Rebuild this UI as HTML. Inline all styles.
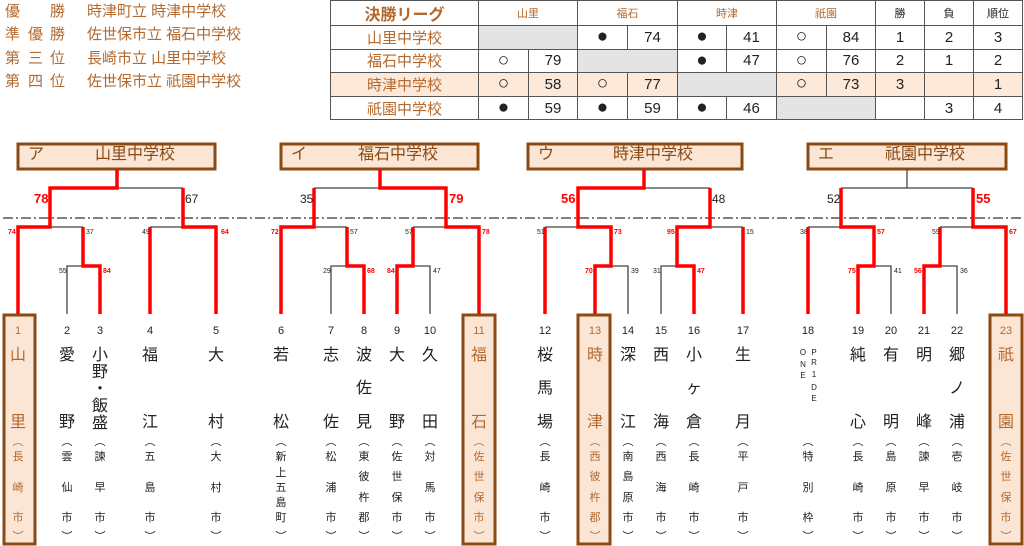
<!DOCTYPE html>
<html><head><meta charset="utf-8"><style>
*{margin:0;padding:0;box-sizing:border-box}
body{width:1024px;height:546px;overflow:hidden;background:#fff;position:relative;font-family:"Liberation Sans","Noto Sans CJK JP",sans-serif;color:#222}
.rs{position:absolute;color:#b4692e;font-size:15px;line-height:18px;white-space:pre}
table{position:absolute;left:330px;top:0;border-collapse:collapse;table-layout:fixed}
td{border:1.5px solid #555;height:23.6px;text-align:center;font-size:15px;padding:0}
.h td{font-size:11px;color:#b4692e}
td.n{color:#b4692e;font-size:15px}
td.c{font-size:19px;line-height:20px}
.g{background:#e4e4e4}
.pk td{background:#fce9da}
.col{position:absolute;width:30px;margin-left:-15px;text-align:center}
.col i{font-style:normal;position:absolute;left:0;width:30px;text-align:center}
.m{font-size:16px;line-height:18px}
.s{font-size:11px;line-height:14px}
.nm{font-size:11px;line-height:12px}
.w{color:#b4692e}
.t{position:absolute;font-size:12px;line-height:12px}
.r{color:#f00;font-weight:bold}
.sm{position:absolute;font-size:7px;line-height:8px}
.bt{position:absolute;top:145px;font-size:16px;line-height:20px;color:#8b4a14}
</style></head><body>
<div class="rs" style="left:5px;top:3px">優</div><div class="rs" style="left:50px;top:3px">勝</div><div class="rs" style="left:87px;top:3px">時津町立 時津中学校</div>
<div class="rs" style="left:5px;top:26px">準</div><div class="rs" style="left:28px;top:26px">優</div><div class="rs" style="left:50px;top:26px">勝</div><div class="rs" style="left:87px;top:26px">佐世保市立 福石中学校</div>
<div class="rs" style="left:5px;top:50px">第</div><div class="rs" style="left:28px;top:50px">三</div><div class="rs" style="left:50px;top:50px">位</div><div class="rs" style="left:87px;top:50px">長崎市立 山里中学校</div>
<div class="rs" style="left:5px;top:73px">第</div><div class="rs" style="left:28px;top:73px">四</div><div class="rs" style="left:50px;top:73px">位</div><div class="rs" style="left:87px;top:73px">佐世保市立 祇園中学校</div>

<table>
<colgroup><col style="width:148px"><col style="width:50px"><col style="width:49px"><col style="width:50px"><col style="width:50px"><col style="width:49px"><col style="width:50px"><col style="width:50px"><col style="width:49px"><col style="width:49px"><col style="width:49px"><col style="width:49px"></colgroup>
<tr class="h"><td class="n" style="font-weight:bold;font-size:16px">決勝リーグ</td><td colspan="2">山里</td><td colspan="2">福石</td><td colspan="2">時津</td><td colspan="2">祇園</td><td style="color:#222">勝</td><td style="color:#222">負</td><td style="color:#222">順位</td></tr>
<tr><td class="n">山里中学校</td><td colspan="2" class="g"></td><td class="c">●</td><td>74</td><td class="c">●</td><td>41</td><td class="c">○</td><td>84</td><td>1</td><td>2</td><td>3</td></tr>
<tr><td class="n">福石中学校</td><td class="c">○</td><td>79</td><td colspan="2" class="g"></td><td class="c">●</td><td>47</td><td class="c">○</td><td>76</td><td>2</td><td>1</td><td>2</td></tr>
<tr class="pk"><td class="n">時津中学校</td><td class="c">○</td><td>58</td><td class="c">○</td><td>77</td><td colspan="2" style="background:#e4e4e4"></td><td class="c">○</td><td>73</td><td>3</td><td></td><td>1</td></tr>
<tr><td class="n">祇園中学校</td><td class="c">●</td><td>59</td><td class="c">●</td><td>59</td><td class="c">●</td><td>46</td><td colspan="2" class="g"></td><td></td><td>3</td><td>4</td></tr>
</table>

<svg width="1024" height="546" style="position:absolute;left:0;top:0" fill="none">
<g stroke="#8b4a14" stroke-width="3" fill="#fbe6d6">
<rect x="18" y="144" width="197" height="25"/>
<rect x="281" y="144" width="197" height="25"/>
<rect x="528" y="144" width="214" height="25"/>
<rect x="808" y="144" width="198" height="25"/>
<rect x="4" y="315" width="31" height="229"/>
<rect x="463" y="315" width="32" height="229"/>
<rect x="578" y="315" width="32" height="229"/>
<rect x="990" y="315" width="32" height="229"/>
</g>
<line x1="3" y1="218" x2="1024" y2="218" stroke="#333" stroke-width="1.3" stroke-dasharray="10,3,2,3"/>
<g stroke="#444" stroke-width="1.3">
<path d="M117 188H183M50 227H83M67 314V266H83M150 227H183"/>
<path d="M380 188H314M314 227H347M331 314V266H347M446 227H413M413 266H430V314"/>
<path d="M644 188H710M578 227H545M611 266H628V314M710 227H743M677 266H661V314"/>
<path d="M907 170V188H841M907 188H973M841 227H808M874 266H891V314M973 227H940M940 266H957V314"/>
</g>
<g stroke="#f00" stroke-width="3.5">
<path d="M117 170V188H50V227H18V314M83 227V266H100V314M183 188V227H216V314M150 314V227"/>
<path d="M380 170V188H446V227H479V314M314 188V227H281V314M347 227V266H364V314M413 227V266H397V314"/>
<path d="M644 170V188H578V227H611V266H595V314M545 227V314M710 188V227H677V266H694V314M743 227V314"/>
<path d="M841 188V227H874V266H858V314M808 227V314M973 188V227H1006V314M940 227V266H924V314"/>
</g>
</svg>

<div class="t r" style="left:34px;top:193px;font-size:13px">78</div>
<div class="t" style="left:185px;top:193px">67</div>
<div class="t" style="left:300px;top:193px">35</div>
<div class="t r" style="left:449px;top:193px;font-size:13px">79</div>
<div class="t r" style="left:561px;top:193px;font-size:13px">56</div>
<div class="t" style="left:712px;top:193px">48</div>
<div class="t" style="left:827px;top:193px">52</div>
<div class="t r" style="left:976px;top:193px;font-size:13px">55</div>

<div class="sm r" style="left:8px;top:229px">74</div>
<div class="sm" style="left:86px;top:229px">37</div>
<div class="sm" style="left:142px;top:229px">49</div>
<div class="sm r" style="left:221px;top:229px">64</div>
<div class="sm" style="left:59px;top:268px">55</div>
<div class="sm r" style="left:103px;top:268px">84</div>
<div class="sm r" style="left:271px;top:229px">72</div>
<div class="sm" style="left:350px;top:229px">57</div>
<div class="sm" style="left:405px;top:229px">57</div>
<div class="sm r" style="left:482px;top:229px">78</div>
<div class="sm" style="left:323px;top:268px">29</div>
<div class="sm r" style="left:367px;top:268px">68</div>
<div class="sm r" style="left:387px;top:268px">84</div>
<div class="sm" style="left:433px;top:268px">47</div>
<div class="sm" style="left:537px;top:229px">51</div>
<div class="sm r" style="left:614px;top:229px">73</div>
<div class="sm r" style="left:667px;top:229px">95</div>
<div class="sm" style="left:746px;top:229px">15</div>
<div class="sm r" style="left:585px;top:268px">70</div>
<div class="sm" style="left:631px;top:268px">39</div>
<div class="sm" style="left:653px;top:268px">31</div>
<div class="sm r" style="left:697px;top:268px">47</div>
<div class="sm" style="left:800px;top:229px">38</div>
<div class="sm r" style="left:877px;top:229px">57</div>
<div class="sm" style="left:932px;top:229px">59</div>
<div class="sm r" style="left:1009px;top:229px">67</div>
<div class="sm r" style="left:848px;top:268px">75</div>
<div class="sm" style="left:894px;top:268px">41</div>
<div class="sm r" style="left:914px;top:268px">56</div>
<div class="sm" style="left:960px;top:268px">36</div>

<div class="bt" style="left:28px">ア</div><div class="bt" style="left:95px">山里中学校</div>
<div class="bt" style="left:291px">イ</div><div class="bt" style="left:358px">福石中学校</div>
<div class="bt" style="left:538px">ウ</div><div class="bt" style="left:613px">時津中学校</div>
<div class="bt" style="left:818px">エ</div><div class="bt" style="left:885px">祇園中学校</div>

<div class="col w" style="left:18px"><i class="nm" style="top:325px">1</i><i class="m" style="top:347px">山</i><i class="m" style="top:414px">里</i><i class="s" style="top:435px">︵</i><i class="s" style="top:450px">長</i><i class="s" style="top:481px">崎</i><i class="s" style="top:511px">市</i><i class="s" style="top:530px">︶</i></div>
<div class="col" style="left:67px"><i class="nm" style="top:325px">2</i><i class="m" style="top:347px">愛</i><i class="m" style="top:414px">野</i><i class="s" style="top:435px">︵</i><i class="s" style="top:450px">雲</i><i class="s" style="top:481px">仙</i><i class="s" style="top:511px">市</i><i class="s" style="top:530px">︶</i></div>
<div class="col" style="left:100px"><i class="nm" style="top:325px">3</i><i class="m" style="top:347px">小</i><i class="m" style="top:364px">野</i><i class="m" style="top:381px">・</i><i class="m" style="top:398px">飯</i><i class="m" style="top:415px">盛</i><i class="s" style="top:435px">︵</i><i class="s" style="top:450px">諫</i><i class="s" style="top:481px">早</i><i class="s" style="top:511px">市</i><i class="s" style="top:530px">︶</i></div>
<div class="col" style="left:150px"><i class="nm" style="top:325px">4</i><i class="m" style="top:347px">福</i><i class="m" style="top:414px">江</i><i class="s" style="top:435px">︵</i><i class="s" style="top:450px">五</i><i class="s" style="top:481px">島</i><i class="s" style="top:511px">市</i><i class="s" style="top:530px">︶</i></div>
<div class="col" style="left:216px"><i class="nm" style="top:325px">5</i><i class="m" style="top:347px">大</i><i class="m" style="top:414px">村</i><i class="s" style="top:435px">︵</i><i class="s" style="top:450px">大</i><i class="s" style="top:481px">村</i><i class="s" style="top:511px">市</i><i class="s" style="top:530px">︶</i></div>
<div class="col" style="left:281px"><i class="nm" style="top:325px">6</i><i class="m" style="top:347px">若</i><i class="m" style="top:414px">松</i><i class="s" style="top:435px">︵</i><i class="s" style="top:450px">新</i><i class="s" style="top:466px">上</i><i class="s" style="top:481px">五</i><i class="s" style="top:496px">島</i><i class="s" style="top:511px">町</i><i class="s" style="top:530px">︶</i></div>
<div class="col" style="left:331px"><i class="nm" style="top:325px">7</i><i class="m" style="top:347px">志</i><i class="m" style="top:414px">佐</i><i class="s" style="top:435px">︵</i><i class="s" style="top:450px">松</i><i class="s" style="top:481px">浦</i><i class="s" style="top:511px">市</i><i class="s" style="top:530px">︶</i></div>
<div class="col" style="left:364px"><i class="nm" style="top:325px">8</i><i class="m" style="top:347px">波</i><i class="m" style="top:380px">佐</i><i class="m" style="top:414px">見</i><i class="s" style="top:435px">︵</i><i class="s" style="top:450px">東</i><i class="s" style="top:470px">彼</i><i class="s" style="top:491px">杵</i><i class="s" style="top:511px">郡</i><i class="s" style="top:530px">︶</i></div>
<div class="col" style="left:397px"><i class="nm" style="top:325px">9</i><i class="m" style="top:347px">大</i><i class="m" style="top:414px">野</i><i class="s" style="top:435px">︵</i><i class="s" style="top:450px">佐</i><i class="s" style="top:470px">世</i><i class="s" style="top:491px">保</i><i class="s" style="top:511px">市</i><i class="s" style="top:530px">︶</i></div>
<div class="col" style="left:430px"><i class="nm" style="top:325px">10</i><i class="m" style="top:347px">久</i><i class="m" style="top:414px">田</i><i class="s" style="top:435px">︵</i><i class="s" style="top:450px">対</i><i class="s" style="top:481px">馬</i><i class="s" style="top:511px">市</i><i class="s" style="top:530px">︶</i></div>
<div class="col w" style="left:479px"><i class="nm" style="top:325px">11</i><i class="m" style="top:347px">福</i><i class="m" style="top:414px">石</i><i class="s" style="top:435px">︵</i><i class="s" style="top:450px">佐</i><i class="s" style="top:470px">世</i><i class="s" style="top:491px">保</i><i class="s" style="top:511px">市</i><i class="s" style="top:530px">︶</i></div>
<div class="col" style="left:545px"><i class="nm" style="top:325px">12</i><i class="m" style="top:347px">桜</i><i class="m" style="top:380px">馬</i><i class="m" style="top:414px">場</i><i class="s" style="top:435px">︵</i><i class="s" style="top:450px">長</i><i class="s" style="top:481px">崎</i><i class="s" style="top:511px">市</i><i class="s" style="top:530px">︶</i></div>
<div class="col w" style="left:595px"><i class="nm" style="top:325px">13</i><i class="m" style="top:347px">時</i><i class="m" style="top:414px">津</i><i class="s" style="top:435px">︵</i><i class="s" style="top:450px">西</i><i class="s" style="top:470px">彼</i><i class="s" style="top:491px">杵</i><i class="s" style="top:511px">郡</i><i class="s" style="top:530px">︶</i></div>
<div class="col" style="left:628px"><i class="nm" style="top:325px">14</i><i class="m" style="top:347px">深</i><i class="m" style="top:414px">江</i><i class="s" style="top:435px">︵</i><i class="s" style="top:450px">南</i><i class="s" style="top:470px">島</i><i class="s" style="top:491px">原</i><i class="s" style="top:511px">市</i><i class="s" style="top:530px">︶</i></div>
<div class="col" style="left:661px"><i class="nm" style="top:325px">15</i><i class="m" style="top:347px">西</i><i class="m" style="top:414px">海</i><i class="s" style="top:435px">︵</i><i class="s" style="top:450px">西</i><i class="s" style="top:481px">海</i><i class="s" style="top:511px">市</i><i class="s" style="top:530px">︶</i></div>
<div class="col" style="left:694px"><i class="nm" style="top:325px">16</i><i class="m" style="top:347px">小</i><i class="m" style="top:380px">ヶ</i><i class="m" style="top:414px">倉</i><i class="s" style="top:435px">︵</i><i class="s" style="top:450px">長</i><i class="s" style="top:481px">崎</i><i class="s" style="top:511px">市</i><i class="s" style="top:530px">︶</i></div>
<div class="col" style="left:743px"><i class="nm" style="top:325px">17</i><i class="m" style="top:347px">生</i><i class="m" style="top:414px">月</i><i class="s" style="top:435px">︵</i><i class="s" style="top:450px">平</i><i class="s" style="top:481px">戸</i><i class="s" style="top:511px">市</i><i class="s" style="top:530px">︶</i></div>
<div class="col" style="left:808px"><i class="nm" style="top:325px">18</i><i class="s" style="top:435px">︵</i><i class="s" style="top:450px">特</i><i class="s" style="top:481px">別</i><i class="s" style="top:511px">枠</i><i class="s" style="top:530px">︶</i></div>
<div class="col" style="left:803px;font-size:8px;line-height:10px"><i style="top:348px">O</i><i style="top:360px">N</i><i style="top:371px">E</i></div>
<div class="col" style="left:814px;font-size:8px;line-height:10px"><i style="top:348px">P</i><i style="top:358px">R</i><i style="top:370px">1</i><i style="top:383px">D</i><i style="top:394px">E</i></div>
<div class="col" style="left:858px"><i class="nm" style="top:325px">19</i><i class="m" style="top:347px">純</i><i class="m" style="top:414px">心</i><i class="s" style="top:435px">︵</i><i class="s" style="top:450px">長</i><i class="s" style="top:481px">崎</i><i class="s" style="top:511px">市</i><i class="s" style="top:530px">︶</i></div>
<div class="col" style="left:891px"><i class="nm" style="top:325px">20</i><i class="m" style="top:347px">有</i><i class="m" style="top:414px">明</i><i class="s" style="top:435px">︵</i><i class="s" style="top:450px">島</i><i class="s" style="top:481px">原</i><i class="s" style="top:511px">市</i><i class="s" style="top:530px">︶</i></div>
<div class="col" style="left:924px"><i class="nm" style="top:325px">21</i><i class="m" style="top:347px">明</i><i class="m" style="top:414px">峰</i><i class="s" style="top:435px">︵</i><i class="s" style="top:450px">諫</i><i class="s" style="top:481px">早</i><i class="s" style="top:511px">市</i><i class="s" style="top:530px">︶</i></div>
<div class="col" style="left:957px"><i class="nm" style="top:325px">22</i><i class="m" style="top:347px">郷</i><i class="m" style="top:380px">ノ</i><i class="m" style="top:414px">浦</i><i class="s" style="top:435px">︵</i><i class="s" style="top:450px">壱</i><i class="s" style="top:481px">岐</i><i class="s" style="top:511px">市</i><i class="s" style="top:530px">︶</i></div>
<div class="col w" style="left:1006px"><i class="nm" style="top:325px">23</i><i class="m" style="top:347px">祇</i><i class="m" style="top:414px">園</i><i class="s" style="top:435px">︵</i><i class="s" style="top:450px">佐</i><i class="s" style="top:470px">世</i><i class="s" style="top:491px">保</i><i class="s" style="top:511px">市</i><i class="s" style="top:530px">︶</i></div>
</body></html>
